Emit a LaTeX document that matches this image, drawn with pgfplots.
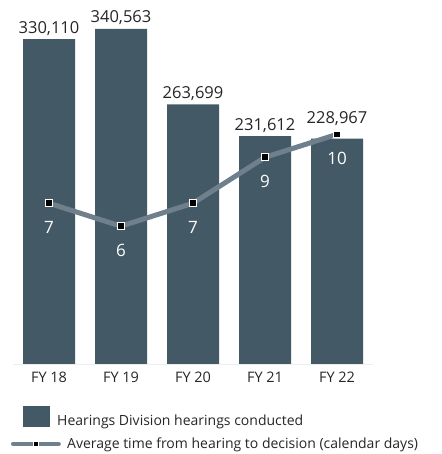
\documentclass[border=0pt]{standalone}
\usepackage{pgfplots}
\pgfplotsset{compat=1.18}
\usepackage{fontspec}
\setmainfont{Open Sans}
\definecolor{barcol}{HTML}{435965}
\definecolor{linecol}{HTML}{6F808C}
\definecolor{txt}{HTML}{262626}
\begin{document}
\begin{tikzpicture}
\path[use as bounding box] (-13pt,-90pt) rectangle (428pt,364pt);
\begin{axis}[
  scale only axis, width=360pt, height=344.5pt,
  xmin=-0.5, xmax=4.5, ymin=0, ymax=350000,
  axis y line=none, axis x line*=bottom,
  x axis line style={draw=black!7, -},
  xtick={0,1,2,3,4}, xticklabels={FY 18,FY 19,FY 20,FY 21,FY 22},
  major tick length=0pt,
  xticklabel style={font=\fontsize{14.5}{16}\selectfont, text=txt, anchor=base, yshift=-19pt, inner sep=0pt},
  ybar, bar width=52pt,
  point meta=explicit symbolic,
  nodes near coords,
  visualization depends on={\thisrow{dy} \as \dy},
  every node near coord/.append style={font=\fontsize{16.5}{18}\selectfont, text=txt, anchor=base, inner sep=0pt, yshift=\dy pt},
]
\addplot[fill=barcol, draw=none] table[x=x, y=y, meta=lab] {
x y lab dy
0 330110 330,110 6
1 340563 340,563 6
2 263699 263,699 6
3 231612 231,612 6
4 228967 228,967 15
};
\end{axis}
\begin{axis}[
  scale only axis, width=360pt, height=344.5pt,
  xmin=-0.5, xmax=4.5, ymin=0, ymax=15,
  axis lines=none, clip=false,
  point meta=explicit symbolic,
  nodes near coords,
  every node near coord/.append style={font=\fontsize{17}{18}\selectfont, text=white, anchor=base, inner sep=0pt, yshift=-30pt},
  legend style={at={(0,0)}, anchor=north west, xshift=-2.3pt, yshift=-42pt, draw=none, fill=none, inner sep=0pt,
    font=\fontsize{14}{16}\selectfont, text=txt, row sep=10.5pt,
    nodes={inner sep=0pt},
    /tikz/every odd column/.append style={column sep=6.3pt}},
  legend cell align=left,
]
\addlegendimage{legend image code/.code={
  \path[draw=none, fill=none] (0pt,0pt) -- (50pt,0pt);
  \fill[barcol, draw=none] (12.3pt,-6pt) rectangle (39.3pt,15pt);}}
\addlegendentry{\hspace*{-10pt}Hearings Division hearings conducted}
\addplot[linecol, line width=5pt, mark=square*, mark size=3.4pt,
  mark options={fill=black, draw=white, line width=1.2pt},
  legend image code/.code={
  \draw[linecol, line width=4.5pt, line cap=round] (2.3pt,0pt) -- (47.7pt,0pt);
  \filldraw[fill=black, draw=white, line width=0.8pt] (22.5pt,-2.3pt) rectangle (27.1pt,2.3pt);}]
  table[x=x, y=y, meta=lab] {
x y lab
0 7 7
1 6 6
2 7 7
3 9 9
4 10 10
};
\addlegendentry{Average time from hearing to decision (calendar days)}
\end{axis}
\end{tikzpicture}
\end{document}
